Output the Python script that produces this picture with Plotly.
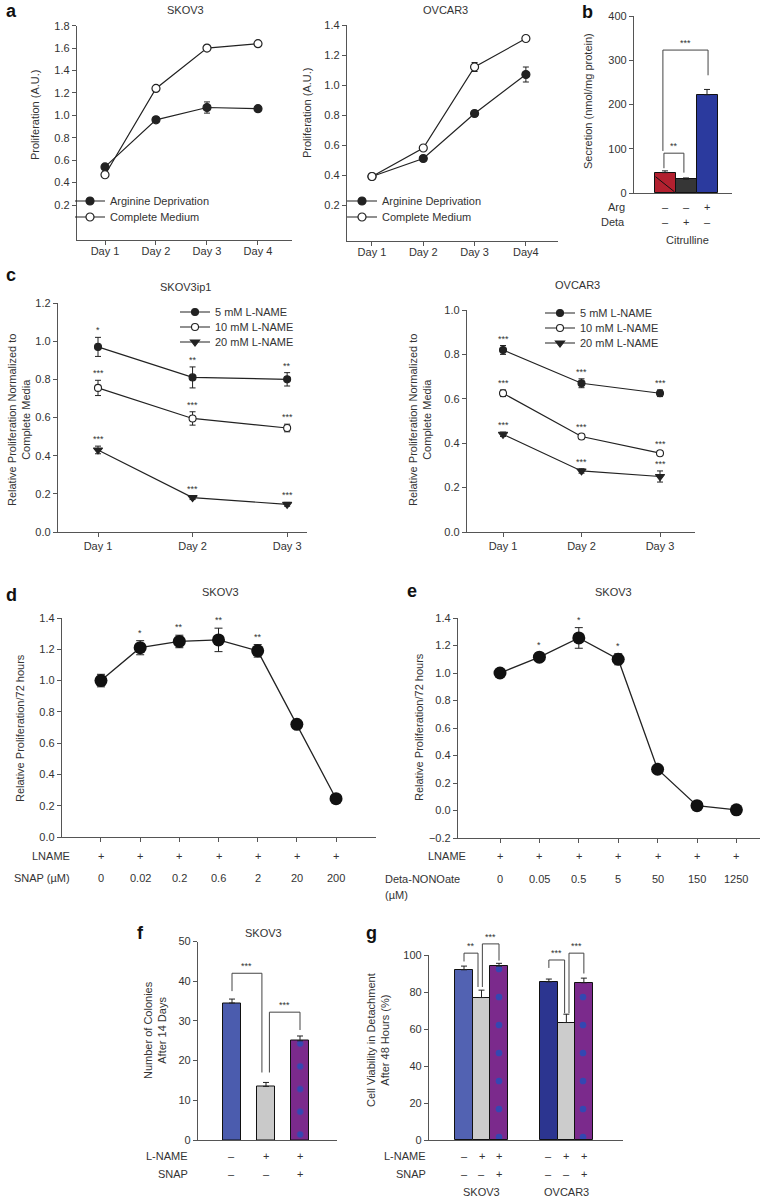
import plotly.graph_objects as go

W, H = 760, 1199

# ---------------- data ----------------
days_a = ["Day 1", "Day 2", "Day 3", "Day 4"]
days_a_ov = ["Day 1", "Day 2", "Day 3", "Day4"]
a_series = ["Arginine Deprivation", "Complete Medium"]
skov3_argdep = [0.54, 0.96, 1.07, 1.06]
skov3_argdep_err = [0.02, 0.02, 0.05, 0.015]
skov3_complete = [0.47, 1.24, 1.60, 1.64]
skov3_complete_err = [0.01, 0.01, 0.01, 0.01]
ovcar3_argdep = [0.39, 0.51, 0.81, 1.07]
ovcar3_argdep_err = [0.01, 0.01, 0.01, 0.05]
ovcar3_complete = [0.39, 0.58, 1.12, 1.31]
ovcar3_complete_err = [0.01, 0.01, 0.03, 0.01]

cit_arg = ["–", "–", "+"]
cit_deta = ["–", "+", "–"]
cit_values = [46, 31, 222]
cit_err = [4, 3, 12]

days_c = ["Day 1", "Day 2", "Day 3"]
lname_labels = ["5 mM L-NAME", "10 mM L-NAME", "20 mM L-NAME"]
skov3ip1_5 = [0.97, 0.81, 0.80]
skov3ip1_10 = [0.755, 0.595, 0.545]
skov3ip1_20 = [0.43, 0.18, 0.145]
skov3ip1_5_err = [0.05, 0.055, 0.035]
skov3ip1_10_err = [0.04, 0.035, 0.02]
skov3ip1_20_err = [0.02, 0.01, 0.01]
skov3ip1_5_sig = ["*", "**", "**"]
skov3ip1_10_sig = ["***", "***", "***"]
skov3ip1_20_sig = ["***", "***", "***"]
ovc_5 = [0.82, 0.67, 0.625]
ovc_10 = [0.625, 0.43, 0.355]
ovc_20 = [0.44, 0.275, 0.25]
ovc_5_err = [0.02, 0.02, 0.015]
ovc_10_err = [0.015, 0.01, 0.01]
ovc_20_err = [0.01, 0.01, 0.025]
ovc_5_sig = ["***", "***", "***"]
ovc_10_sig = ["***", "***", "***"]
ovc_20_sig = ["***", "***", "***"]

snap_lname = ["+"] * 7
snap_doses = ["0", "0.02", "0.2", "0.6", "2", "20", "200"]
snap_vals = [1.00, 1.21, 1.25, 1.26, 1.19, 0.72, 0.245]
snap_err = [0.04, 0.045, 0.04, 0.075, 0.04, 0.01, 0.01]
snap_sig = ["", "*", "**", "**", "**", "", ""]

deta_lname = ["+"] * 7
deta_doses = ["0", "0.05", "0.5", "5", "50", "150", "1250"]
deta_vals = [1.00, 1.115, 1.255, 1.10, 0.30, 0.035, 0.005]
deta_err = [0.01, 0.03, 0.075, 0.04, 0.01, 0.01, 0.01]
deta_sig = ["", "*", "*", "*", "", "", ""]

f_lname = ["–", "+", "+"]
f_snap = ["–", "–", "+"]
colony_vals = [34.5, 13.5, 25.0]
colony_err = [1.0, 1.0, 1.2]

g_lines = ["SKOV3", "OVCAR3"]
g_lname = ["–", "+", "+"]
g_snap = ["–", "–", "+"]
viab_skov3 = [92, 77, 94]
viab_skov3_err = [2, 4, 1.5]
viab_ovcar3 = [85.5, 63.5, 85]
viab_ovcar3_err = [1.5, 4.5, 2.5]

# ---------------- layout helpers ----------------
FONT = "Liberation Sans, Arial, sans-serif"
INK = "#222222"
AX = "#555555"
TXT = "#333333"


def xd(p):
    return p / W


def yd(p):
    return 1 - p / H


PANELS = {
    1: dict(px=(77, 292), py=(25.7, 240), xr=(0.451, 4.667), yr=(-0.112, 1.8)),
    2: dict(px=(347, 558), py=(25, 241), xr=(0.513, 4.626), yr=(-0.04, 1.4)),
    3: dict(px=(634, 732), py=(16, 193), xr=(-1.476, 3.19), yr=(0, 400)),
    4: dict(px=(58, 307), py=(303, 532), xr=(0.577, 3.21), yr=(0, 1.2)),
    5: dict(px=(467, 695), py=(310, 532), xr=(0.541, 3.446), yr=(0, 1.0)),
    6: dict(px=(62, 376), py=(618, 837), xr=(-0.995, 7.02), yr=(0, 1.4)),
    7: dict(px=(458, 760), py=(618, 838), xr=(-1.066, 6.599), yr=(-0.2, 1.4)),
    8: dict(px=(198, 337), py=(941.5, 1140), xr=(-1.0, 3.088), yr=(0, 50)),
    9: dict(px=(429, 623), py=(955, 1140), xr=(-2.0, 9.086), yr=(0, 100)),
}


def vy(i, v):
    p = PANELS[i]
    top, bot = p["py"]
    r0, r1 = p["yr"]
    return yd(bot - (v - r0) / (r1 - r0) * (bot - top))


def sfx(i):
    return "" if i == 1 else str(i)


layout = dict(
    width=W, height=H, margin=dict(l=0, r=0, t=0, b=0),
    paper_bgcolor="white", plot_bgcolor="rgba(0,0,0,0)",
    font=dict(family=FONT, size=11, color=TXT),
    showlegend=True, barmode="overlay",
)

common = dict(showline=True, linecolor=AX, linewidth=1.3, showgrid=False, zeroline=False,
              ticks="outside", ticklen=4, tickwidth=1.2, tickcolor=AX, automargin=False,
              tickfont=dict(size=11, color=TXT, family=FONT), fixedrange=True)


def add_axes(i, xtickvals=None, xticktext=None, xticks=True, ydtick=None, yfmt=None, ytick0=None):
    p = PANELS[i]
    xa = dict(common, domain=[xd(p["px"][0]), xd(p["px"][1])], range=list(p["xr"]),
              anchor="y" + sfx(i))
    if xticks and xtickvals is not None:
        xa.update(tickmode="array", tickvals=xtickvals,
                  ticktext=xticktext if xticktext is not None else [""] * len(xtickvals))
    else:
        xa.update(ticks="", showticklabels=False)
    ya = dict(common, domain=[yd(p["py"][1]), yd(p["py"][0])], range=list(p["yr"]),
              anchor="x" + sfx(i), tickmode="linear", dtick=ydtick,
              tick0=ytick0 if ytick0 is not None else 0)
    if yfmt:
        ya["tickformat"] = yfmt
    layout["xaxis" + sfx(i)] = xa
    layout["yaxis" + sfx(i)] = ya


add_axes(1, list(range(1, 5)), days_a, ydtick=0.2, yfmt=".1f", ytick0=0.2)
add_axes(2, list(range(1, 5)), days_a_ov, ydtick=0.2, yfmt=".1f", ytick0=0.2)
add_axes(3, xticks=False, ydtick=100)
add_axes(4, list(range(1, 4)), days_c, ydtick=0.2, yfmt=".1f")
add_axes(5, list(range(1, 4)), days_c, ydtick=0.2, yfmt=".1f")
add_axes(6, list(range(len(snap_doses))), None, ydtick=0.2, yfmt=".1f")
add_axes(7, list(range(len(deta_doses))), None, ydtick=0.2, yfmt=".1f", ytick0=-0.2)
add_axes(8, xticks=False, ydtick=10)
add_axes(9, xticks=False, ydtick=20)
layout["yaxis"]["tickmode"] = "array"
layout["yaxis"]["tickvals"] = [round(0.2 * k, 1) for k in range(1, 10)]
layout["yaxis2"]["tickmode"] = "array"
layout["yaxis2"]["tickvals"] = [round(0.2 * k, 1) for k in range(1, 8)]
layout["xaxis"]["ticklabelstandoff"] = -3
layout["xaxis2"]["ticklabelstandoff"] = -3

traces = []
annotations = []
shapes = []

err_style = dict(type="data", thickness=1, width=3, color=INK)
leg_common = dict(bgcolor="rgba(0,0,0,0)", font=dict(size=11, color=TXT, family=FONT),
                  xanchor="left", yanchor="middle", tracegroupgap=0, itemwidth=30,
                  borderwidth=0)
leg_count = [0]


def new_legend(xpx, ypx):
    leg_count[0] += 1
    key = "legend" if leg_count[0] == 1 else "legend%d" % leg_count[0]
    layout[key] = dict(leg_common, x=xd(xpx), y=yd(ypx))
    return key


# ---- panel a ----
for i, lx, argv, arge, comv, come in [
    (1, 70, skov3_argdep, skov3_argdep_err, skov3_complete, skov3_complete_err),
    (2, 342, ovcar3_argdep, ovcar3_argdep_err, ovcar3_complete, ovcar3_complete_err),
]:
    for k, (name, vals, errs, fill) in enumerate([(a_series[0], argv, arge, INK), (a_series[1], comv, come, "white")]):
        traces.append(go.Scatter(
            x=list(range(1, len(vals) + 1)), y=vals, mode="lines+markers", name=name,
            line=dict(color=INK, width=1.2),
            marker=dict(symbol="circle", size=8, color=fill, line=dict(color=INK, width=1.2)),
            error_y=dict(err_style, array=errs),
            xaxis="x" + sfx(i), yaxis="y" + sfx(i), legend=new_legend(lx, 201 + 16 * k),
            cliponaxis=False))

# ---- panel c ----
c_sets = [
    (4, 175, 312, [skov3ip1_5, skov3ip1_10, skov3ip1_20],
     [skov3ip1_5_err, skov3ip1_10_err, skov3ip1_20_err],
     [skov3ip1_5_sig, skov3ip1_10_sig, skov3ip1_20_sig]),
    (5, 540, 313, [ovc_5, ovc_10, ovc_20], [ovc_5_err, ovc_10_err, ovc_20_err],
     [ovc_5_sig, ovc_10_sig, ovc_20_sig]),
]
symbols = ["circle", "circle", "triangle-down"]
fills = [INK, "white", INK]
sizes = [7, 7, 8]
for i, lx, ly, vals_l, errs_l, sig_l in c_sets:
    for k in range(3):
        xs = list(range(1, len(days_c) + 1))
        traces.append(go.Scatter(
            x=xs, y=vals_l[k], mode="lines+markers", name=lname_labels[k],
            line=dict(color=INK, width=1.2),
            marker=dict(symbol=symbols[k], size=sizes[k], color=fills[k], line=dict(color=INK, width=1.1)),
            error_y=dict(err_style, array=errs_l[k]),
            xaxis="x" + sfx(i), yaxis="y" + sfx(i), legend=new_legend(lx, ly + 15 * k),
            cliponaxis=False))
        for x, v, e, s in zip(xs, vals_l[k], errs_l[k], sig_l[k]):
            annotations.append(dict(x=x, y=v + e, xref="x" + sfx(i), yref="y" + sfx(i), text=s,
                                    showarrow=False, yanchor="bottom", yshift=0,
                                    font=dict(size=9, color=TXT)))

# ---- panels d, e ----
for i, vals, errs, sigs in [(6, snap_vals, snap_err, snap_sig), (7, deta_vals, deta_err, deta_sig)]:
    xs = list(range(len(vals)))
    traces.append(go.Scatter(
        x=xs, y=vals, mode="lines+markers", showlegend=False,
        line=dict(color=INK, width=1.3),
        marker=dict(symbol="circle", size=13, color="#111111"),
        error_y=dict(type="data", array=errs, thickness=1, width=4, color=INK),
        xaxis="x" + sfx(i), yaxis="y" + sfx(i), cliponaxis=False))
    for x, v, e, s in zip(xs, vals, errs, sigs):
        if s:
            annotations.append(dict(x=x, y=v + e, xref="x" + sfx(i), yref="y" + sfx(i), text=s,
                                    showarrow=False, yanchor="bottom", yshift=1,
                                    font=dict(size=9, color=TXT)))

# ---- panel b ----
bx = list(range(len(cit_values)))
traces.append(go.Bar(
    x=bx, y=cit_values, width=1.0, showlegend=False,
    marker=dict(color=["#b2202f", "#363636", "#2b3a9e"], line=dict(color="#111111", width=1)),
    error_y=dict(type="data", array=cit_err, arrayminus=[0] * 3, symmetric=False,
                 thickness=1, width=3, color=INK),
    xaxis="x3", yaxis="y3"))
shapes.append(dict(type="line", xref="x3", yref="y3", x0=bx[0] - 0.45, y0=cit_values[0] * 0.8,
                   x1=bx[0] + 0.45, y1=cit_values[0] * 0.06, line=dict(color="#111111", width=1)))

PURPLE = "#7b2a8c"
DOT_BLUE = "#3447b2"
DOTS_F = dict(shape=".", fgcolor=DOT_BLUE, fgopacity=1, size=22.7, solidity=0.06, fillmode="overlay")
DOTS_G = dict(shape=".", fgcolor=DOT_BLUE, fgopacity=1, size=28, solidity=0.045, fillmode="overlay")


def bar_trace(xs, ys, es, color, ax, width, pattern=None):
    marker = dict(color=color, line=dict(color="#111111", width=1))
    if pattern:
        marker["pattern"] = pattern
    return go.Bar(x=xs, y=ys, width=width, showlegend=False, marker=marker,
                  error_y=dict(type="data", array=es, arrayminus=[0] * len(es), symmetric=False,
                               thickness=1, width=3, color=INK),
                  xaxis="x" + sfx(ax), yaxis="y" + sfx(ax))


# ---- panel f ----
fx = list(range(len(colony_vals)))
traces.append(bar_trace(fx[:2], colony_vals[:2], colony_err[:2], ["#4b5cae", "#c9c9c9"], 8, 0.53))
traces.append(bar_trace(fx[2:], colony_vals[2:], colony_err[2:], PURPLE, 8, 0.53, DOTS_F))

# ---- panel g ----
g_offsets = [0, 4.85]
g_blue = ["#5262b2", "#2c3590"]
px_purple, py_purple, pe_purple = [], [], []
for gi, (vals, errs) in enumerate([(viab_skov3, viab_skov3_err), (viab_ovcar3, viab_ovcar3_err)]):
    xs = [g_offsets[gi] + k for k in range(3)]
    traces.append(bar_trace(xs[:2], vals[:2], errs[:2], [g_blue[gi], "#cccccc"], 9, 1.0))
    px_purple.append(xs[2])
    py_purple.append(vals[2])
    pe_purple.append(errs[2])
traces.append(bar_trace(px_purple, py_purple, pe_purple, PURPLE, 9, 1.0, DOTS_G))


# ---- brackets ----
def bracket(i, xa, ya, xb, yb, ytop, text, tx=None):
    ax = "x" + sfx(i)
    path = "M {},{} L {},{} L {},{} L {},{}".format(xa, vy(i, ya), xa, vy(i, ytop), xb, vy(i, ytop), xb, vy(i, yb))
    shapes.append(dict(type="path", xref=ax, yref="paper", path=path,
                       line=dict(color="#444444", width=1)))
    annotations.append(dict(x=tx if tx is not None else (xa + xb) / 2, y=vy(i, ytop), xref=ax, yref="paper",
                            text=text, showarrow=False, yanchor="bottom", yshift=0,
                            font=dict(size=9, color=TXT)))


bracket(3, -0.05, cit_values[0] + cit_err[0] + 6, 0.9, cit_values[1] + cit_err[1] + 12, 90, "**")
bracket(3, -0.1, 95, 2.05, cit_values[2] + cit_err[2] + 32, 323, "***")
bracket(8, 0.0, colony_vals[0] + colony_err[0] + 2, 0.88, colony_vals[1] + colony_err[1] + 2.5, 42, "***")
bracket(8, 1.1, colony_vals[1] + colony_err[1] + 2.5, 2.0, colony_vals[2] + colony_err[2] + 1.5, 32.2, "***")
bracket(9, 0.0, viab_skov3[0] + viab_skov3_err[0] + 2.5, 0.8, viab_skov3[1] + viab_skov3_err[1] + 1.7, 101, "**")
bracket(9, 1.05, viab_skov3[1] + viab_skov3_err[1] + 1.7, 2.0, viab_skov3[2] + viab_skov3_err[2] + 1.5, 106, "***")
bracket(9, 4.85, viab_ovcar3[0] + viab_ovcar3_err[0] + 6, 5.75, viab_ovcar3[1] + viab_ovcar3_err[1] + 0.5, 97.3, "***")
bracket(9, 6.0, viab_ovcar3[1] + viab_ovcar3_err[1] + 0.5, 6.85, viab_ovcar3[2] + viab_ovcar3_err[2] + 2.5, 101, "***")


# ---- text helpers ----
def ptext(x, y, text, size=11, xanchor="center", yanchor="middle", angle=0, bold=False, align="center"):
    annotations.append(dict(x=xd(x), y=yd(y), xref="paper", yref="paper", text=("<b>%s</b>" % text) if bold else text,
                            showarrow=False, xanchor=xanchor, yanchor=yanchor, textangle=angle, align=align,
                            font=dict(size=size, color=TXT if not bold else "#111111", family=FONT)))


def row_text(i, xs, labels, y):
    for x, t in zip(xs, labels):
        annotations.append(dict(x=x, y=yd(y), xref="x" + sfx(i), yref="paper", text=t, showarrow=False,
                                xanchor="center", yanchor="middle", font=dict(size=11, color=TXT)))


# panel letters
for letter, x, y in [("a", 4, 11), ("b", 580, 12), ("c", 4, 275), ("d", 4, 595),
                     ("e", 405, 591), ("f", 135, 933), ("g", 364, 933)]:
    ptext(x, y, letter, size=18, xanchor="left", bold=True)

# panel titles
ptext(185, 10, "SKOV3")
ptext(445, 10, "OVCAR3")
ptext(185, 287, "SKOV3ip1")
ptext(577, 285, "OVCAR3")
ptext(220, 592, "SKOV3")
ptext(613, 592, "SKOV3")
ptext(263, 933, "SKOV3")

# y titles
ptext(35, 115, "Proliferation (A.U.)", angle=-90)
ptext(307, 113, "Proliferation (A.U.)", angle=-90)
ptext(588, 101, "Secretion (nmol/mg protein)", angle=-90)
ptext(19, 420, "Relative Proliferation Normalized to<br>Complete Media", angle=-90)
ptext(420, 420, "Relative Proliferation Normalized to<br>Complete Media", angle=-90)
ptext(20, 728, "Relative Proliferation/72 hours", angle=-90)
ptext(419, 727, "Relative Proliferation/72 hours", angle=-90)
ptext(155, 1030, "Number of Colonies<br>After 14 Days", angle=-90)
ptext(378, 1040, "Cell Viability in Detachment<br>After 48 Hours (%)", angle=-90)

# panel b rows
ptext(627, 207, "Arg", xanchor="right")
ptext(627, 222, "Deta", xanchor="right")
row_text(3, bx, cit_arg, 207)
row_text(3, bx, cit_deta, 222)
ptext(687, 240, "Citrulline")

# panel d rows
ptext(72, 856, "LNAME", xanchor="right")
ptext(72, 878, "SNAP (µM)", xanchor="right")
row_text(6, list(range(len(snap_doses))), snap_lname, 856)
row_text(6, list(range(len(snap_doses))), snap_doses, 878)

# panel e rows
ptext(468, 856, "LNAME", xanchor="right")
ptext(383, 879, "Deta-NONOate", xanchor="left")
ptext(383, 895, "(µM)", xanchor="left")
row_text(7, list(range(len(deta_doses))), deta_lname, 856)
row_text(7, list(range(len(deta_doses))), deta_doses, 879)

# panel f rows
ptext(190, 1156, "L-NAME", xanchor="right")
ptext(190, 1174, "SNAP", xanchor="right")
row_text(8, fx, f_lname, 1156)
row_text(8, fx, f_snap, 1174)

# panel g rows
ptext(428, 1156, "L-NAME", xanchor="right")
ptext(428, 1174, "SNAP", xanchor="right")
for gi, name in enumerate(g_lines):
    xs = [g_offsets[gi] + k for k in range(3)]
    row_text(9, xs, g_lname, 1156)
    row_text(9, xs, g_snap, 1174)
    annotations.append(dict(x=xs[1], y=yd(1192), xref="x9", yref="paper", text=name, showarrow=False,
                            xanchor="center", yanchor="middle", font=dict(size=11, color=TXT)))

layout["annotations"] = annotations
layout["shapes"] = shapes
layout["bargap"] = 0

fig = go.Figure(data=traces, layout=layout)
fig.write_html("out.html", config={"displayModeBar": False},
               post_script="document.body.style.margin='0px';document.body.style.overflow='hidden';")
